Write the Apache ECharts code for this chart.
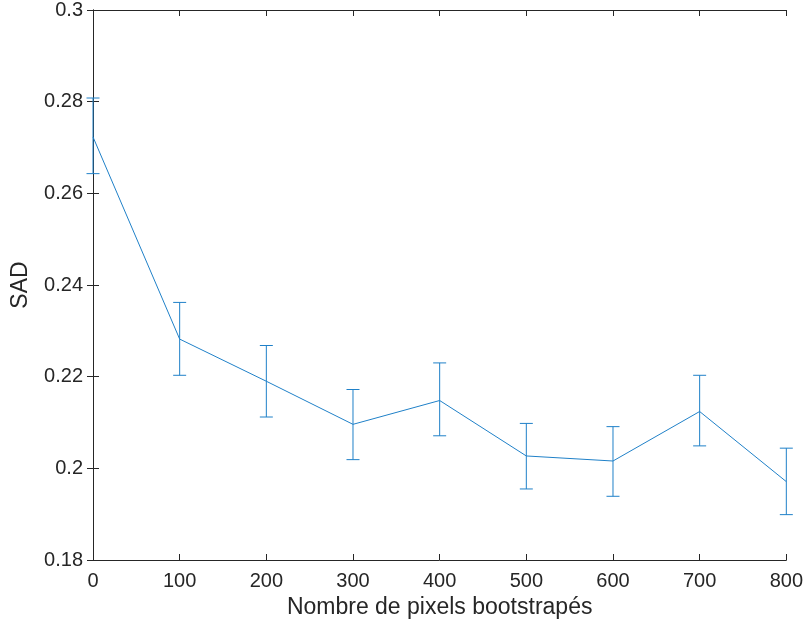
<!DOCTYPE html>
<html>
<head>
<meta charset="utf-8">
<script src="https://cdn.jsdelivr.net/npm/echarts@6/dist/echarts.min.js"></script>
<style>html,body{margin:0;padding:0;background:#fff}#c{width:806px;height:630px}</style>
</head>
<body>
<div id="c"></div>
<script>
// Data
const xValues = [0, 100, 200, 300, 400, 500, 600, 700, 800];
const meanSAD = [0.2723, 0.2282, 0.2190, 0.2096, 0.2148, 0.2027, 0.2016, 0.2124, 0.1971];
const lowerSAD = [0.2643, 0.2203, 0.2112, 0.2019, 0.2071, 0.1955, 0.1939, 0.2049, 0.1899];
const upperSAD = [0.2808, 0.2362, 0.2268, 0.2172, 0.2230, 0.2098, 0.2091, 0.2203, 0.2044];
const xLabel = 'Nombre de pixels bootstrapés';
const yLabel = 'SAD';

const FONT = "'Liberation Sans', Arial, Helvetica, sans-serif";
const AX = '#262626';
const BLUE = '#1f80c8';

const chart = echarts.init(document.getElementById('c'), null, {renderer: 'canvas'});
const lineData = xValues.map((x, i) => [x, meanSAD[i]]);
const errData = xValues.map((x, i) => [x, lowerSAD[i], upperSAD[i]]);

const baseAxisLine = {show: true, lineStyle: {color: AX, width: 1}};
const tick = {show: true, inside: true, length: 6, lineStyle: {color: AX, width: 1}};

chart.setOption({
  animation: false,
  grid: {left: 93, right: 16, top: 10, bottom: 70, containLabel: false},
  xAxis: [{
    type: 'value', min: 0, max: 800, interval: 100, position: 'bottom',
    axisLine: baseAxisLine, axisTick: tick, splitLine: {show: false},
    axisLabel: {color: AX, fontFamily: FONT, fontSize: 20, margin: 11},
    name: xLabel, nameLocation: 'middle', nameGap: 27,
    nameTextStyle: {color: AX, fontFamily: FONT, fontSize: 23}
  }, {
    type: 'value', min: 0, max: 800, interval: 100, position: 'top',
    axisLine: baseAxisLine, axisTick: tick, splitLine: {show: false},
    axisLabel: {show: false}
  }],
  yAxis: [{
    type: 'value', min: 0.18, max: 0.3, interval: 0.02, position: 'left',
    axisLine: baseAxisLine, axisTick: tick, splitLine: {show: false},
    axisLabel: {color: AX, fontFamily: FONT, fontSize: 20, margin: 10,
      formatter: v => String(parseFloat(v.toFixed(2)))},
    name: yLabel, nameLocation: 'middle', nameGap: 61, nameRotate: 90,
    nameTextStyle: {color: AX, fontFamily: FONT, fontSize: 23}
  }, {
    type: 'value', min: 0.18, max: 0.3, interval: 0.02, position: 'right',
    axisLine: baseAxisLine, axisTick: tick, splitLine: {show: false},
    axisLabel: {show: false}
  }],
  series: [{
    type: 'line', data: lineData, showSymbol: false, symbol: 'none',
    lineStyle: {color: BLUE, width: 1}, clip: false, z: 3
  }, {
    type: 'custom', data: errData, clip: false, z: 3,
    encode: {x: 0, y: [1, 2]},
    renderItem: function (params, api) {
      const x = api.value(0);
      const lo = api.coord([x, api.value(1)]);
      const hi = api.coord([x, api.value(2)]);
      const hw = 6.5;
      const style = {stroke: BLUE, lineWidth: 1};
      return {
        type: 'group',
        children: [
          {type: 'line', shape: {x1: lo[0], y1: lo[1], x2: hi[0], y2: hi[1]}, style: style},
          {type: 'line', shape: {x1: lo[0] - hw, y1: lo[1], x2: lo[0] + hw, y2: lo[1]}, style: style},
          {type: 'line', shape: {x1: hi[0] - hw, y1: hi[1], x2: hi[0] + hw, y2: hi[1]}, style: style}
        ]
      };
    }
  }]
});
</script>
</body>
</html>
